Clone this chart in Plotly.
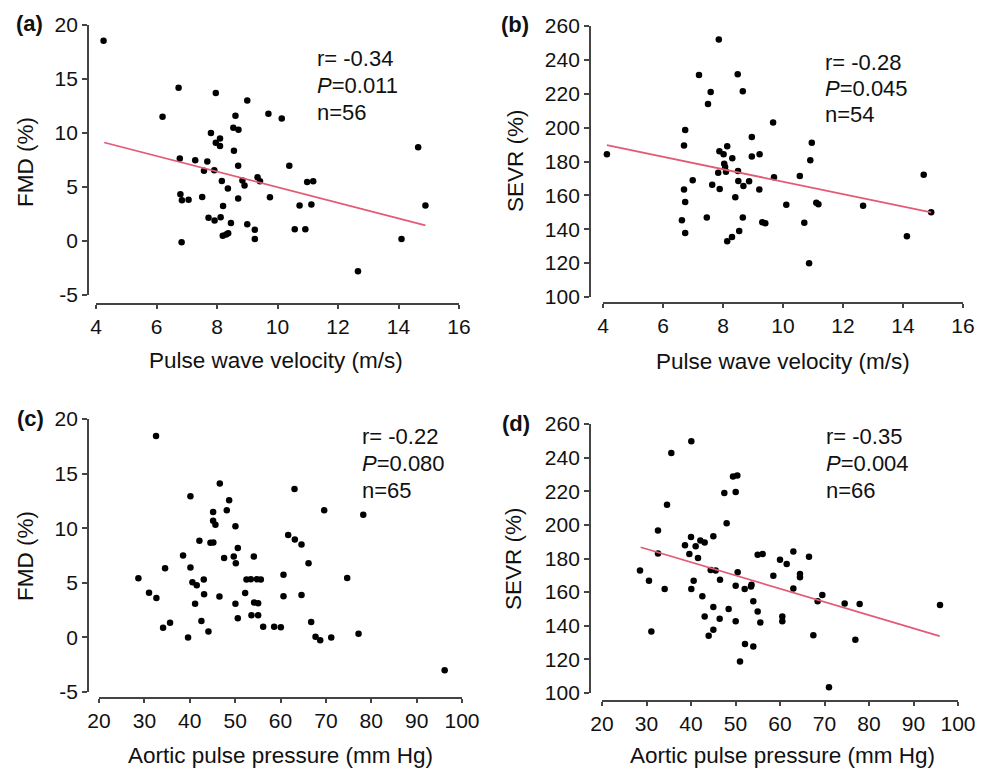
import plotly.graph_objects as go

# panel (a): pulse wave velocity vs FMD
pwv_fmd_x = [4.25, 6.73, 6.2, 7.96, 9.0, 9.7, 10.14, 8.61, 8.54, 8.71, 7.8, 8.1, 7.96, 8.1,
             8.56, 6.77, 7.28, 7.68, 8.7, 7.57, 7.91, 10.39, 8.16, 8.84, 8.91, 9.34, 9.42,
             10.98, 11.18, 8.36, 6.79, 6.84, 7.06, 7.51, 8.7, 9.75, 8.2, 10.73, 11.12, 14.89,
             14.65, 7.72, 7.92, 8.12, 8.46, 9.0, 9.25, 10.57, 10.92, 8.19, 8.37, 8.3, 9.25,
             14.1, 6.83, 12.66]
pwv_fmd_y = [18.55, 14.19, 11.5, 13.7, 13.0, 11.78, 11.34, 11.6, 10.48, 10.3, 10.0, 9.5, 9.1,
             8.8, 8.35, 7.63, 7.48, 7.36, 6.96, 6.5, 6.55, 6.96, 5.56, 5.6, 5.13, 5.9, 5.53,
             5.47, 5.53, 4.85, 4.33, 3.77, 3.83, 4.08, 3.93, 4.05, 3.25, 3.28, 3.37, 3.28,
             8.69, 2.16, 1.89, 2.19, 1.67, 1.55, 1.05, 1.08, 1.08, 0.49, 0.71, 0.6, 0.19,
             0.19, -0.12, -2.81]
pwv_fmd_fit_x = [4.27, 14.89]
pwv_fmd_fit_y = [9.12, 1.45]

# panel (b): pulse wave velocity vs SEVR
pwv_sevr_x = [4.13, 7.86, 7.2, 8.49, 7.59, 8.66, 7.5, 9.67, 6.74, 6.7, 8.96, 8.14, 7.88, 8.02,
              8.31, 8.96, 9.22, 10.96, 10.91, 8.04, 8.07, 7.84, 8.1, 8.5, 6.99, 7.64, 8.51,
              8.68, 8.87, 9.7, 10.56, 6.7, 7.89, 9.21, 6.74, 8.41, 10.11, 11.11, 11.18, 12.67,
              14.69, 14.94, 6.63, 7.46, 8.66, 9.31, 9.41, 10.71, 6.74, 8.54, 8.3, 8.14, 14.13,
              10.87]
pwv_sevr_y = [184.3, 252, 231, 231.5, 221, 221.5, 214, 203, 198.6, 189.4, 194.5, 189, 186,
              184.3, 181.9, 183, 184.3, 191, 180.7, 178.7, 176.8, 173.4, 174, 174.4, 168.9,
              166.3, 168.5, 165.6, 168.3, 170.7, 171.5, 163.4, 163.8, 163.4, 156.1, 158.9,
              154.5, 155.7, 154.7, 153.9, 172.2, 150, 145.3, 146.9, 146.9, 144.1, 143.5,
              143.9, 137.8, 139, 135.4, 132.9, 135.8, 119.9]
pwv_sevr_fit_x = [4.13, 14.94]
pwv_sevr_fit_y = [189.6, 150]

# panel (c): aortic pulse pressure vs FMD
app_fmd_x = [32.57, 28.68, 31.03, 32.65, 34.56, 34.12, 35.66, 38.53, 40.15, 40.15, 40.59,
             41.54, 41.18, 43.09, 43.16, 42.13, 42.57, 44.12, 39.63, 44.56, 45.2, 45.15,
             45.15, 45.66, 46.62, 47.57, 46.54, 48.16, 48.68, 49.7, 50.15, 50.07, 50.59,
             50.07, 50.59, 52.21, 52.5, 53.46, 54.12, 54.78, 55.66, 54.19, 55.07, 53.6,
             55.07, 56.18, 58.6, 60.07, 60.66, 60.66, 61.69, 63.16, 64.63, 63.09, 66.18,
             64.63, 66.76, 67.72, 68.75, 71.18, 69.63, 74.7, 77.2, 78.24, 96.18]
app_fmd_y = [18.44, 5.42, 4.1, 3.61, 6.34, 0.89, 1.35, 7.5, 12.92, 6.4, 5.05, 4.78, 3.09,
             5.3, 3.95, 8.85, 1.5, 0.55, 0.0, 8.67, 8.7, 11.49, 10.69, 10.32, 14.09, 7.26,
             3.74, 11.64, 12.56, 7.41, 6.8, 10.17, 8.18, 3.09, 1.75, 4.07, 5.3, 5.33, 7.41,
             5.33, 5.3, 3.19, 3.12, 2.02, 2.02, 0.98, 0.98, 0.92, 5.73, 3.77, 9.37, 8.97,
             8.51, 13.6, 6.8, 3.89, 1.41, 0.06, -0.25, 0.0, 11.64, 5.45, 0.34, 11.24, -3.0]

# panel (d): aortic pulse pressure vs SEVR
app_sevr_x = [40.07, 35.58, 34.61, 32.58, 32.58, 28.54, 30.56, 34.08, 31.09, 38.65, 40.0,
              41.05, 39.63, 41.57, 42.1, 43.07, 45.02, 40.6, 40.07, 42.55, 44.42, 45.54,
              46.52, 45.02, 43.07, 46.44, 45.02, 43.97, 48.46, 47.49, 48.01, 49.44, 50.41,
              50.04, 50.49, 50.04, 50.04, 52.06, 52.13, 51.01, 53.48, 53.6, 54.0, 54.98,
              54.98, 56.1, 55.58, 54.0, 58.5, 60.0, 61.5, 60.52, 60.52, 63.0, 63.0, 64.49,
              64.49, 66.52, 67.49, 68.46, 69.51, 71.01, 74.53, 77.9, 76.93, 95.96]
app_sevr_y = [249.7, 242.7, 211.9, 196.6, 182.9, 172.8, 166.8, 161.8, 136.6, 187.9, 192.8,
              187.3, 182.7, 180.3, 190.7, 189.5, 193.2, 166.8, 161.8, 157.5, 173.2, 172.8,
              167.4, 151.1, 145.5, 144.1, 137.6, 134.0, 149.9, 218.9, 201.0, 228.8, 229.4,
              219.5, 171.8, 163.8, 142.7, 161.8, 129.2, 118.7, 163.4, 164.4, 154.5, 148.5,
              182.3, 182.7, 141.9, 127.6, 169.8, 179.3, 176.7, 145.5, 142.7, 184.1, 162.2,
              170.8, 168.8, 181.1, 134.4, 154.5, 158.3, 103.4, 153.3, 152.9, 131.6, 152.3]
app_sevr_fit_x = [28.69, 95.88]
app_sevr_fit_y = [186.7, 133.8]

# tick values (FMD axis uses a plain hyphen for -5, as in the source figure)
pwv_ticks = [4, 6, 8, 10, 12, 14, 16]
app_ticks = [20, 30, 40, 50, 60, 70, 80, 90, 100]
fmd_ticks = [-5, 0, 5, 10, 15, 20]
fmd_tick_text = ['-5', '0', '5', '10', '15', '20']
sevr_ticks = [100, 120, 140, 160, 180, 200, 220, 240, 260]

panel_labels = ['(a)', '(b)', '(c)', '(d)']
x_titles = ['Pulse wave velocity (m/s)', 'Pulse wave velocity (m/s)',
            'Aortic pulse pressure (mm Hg)', 'Aortic pulse pressure (mm Hg)']
y_titles = ['FMD (%)', 'SEVR (%)', 'FMD (%)', 'SEVR (%)']
stats_r = ['r= -0.34', 'r= -0.28', 'r= -0.22', 'r= -0.35']
stats_p = ['0.011', '0.045', '0.080', '0.004']
stats_n = ['n=56', 'n=54', 'n=65', 'n=66']

W, H = 989, 769
PAGE_OFF = 8  # the browser's default body margin shifts the figure by 8px
FONT = 'Liberation Sans, Arial, sans-serif'
TXT = '#111111'
AXC = '#444444'
RED = '#e35a73'


def px(v):
    return (v - PAGE_OFF) / W


def py(v):
    return 1 - (v - PAGE_OFF) / H


# layout in screen pixels: x-domain, y-domain (top, bottom), y-axis line x, x-axis line y,
# label pos, stats pos, x-title pos, y-title pos
panels = [
    dict(x=pwv_fmd_x, y=pwv_fmd_y, fx=pwv_fmd_fit_x, fy=pwv_fmd_fit_y,
         xt_v=pwv_ticks, yt_v=fmd_ticks, yt_t=fmd_tick_text,
         xd=(96, 459), yd=(25, 295), yline=88, xline=304,
         lab=(29, 24), st=(315, 59), xt=(276, 360), yt=(25, 162)),
    dict(x=pwv_sevr_x, y=pwv_sevr_y, fx=pwv_sevr_fit_x, fy=pwv_sevr_fit_y,
         xt_v=pwv_ticks, yt_v=sevr_ticks, yt_t=[str(v) for v in sevr_ticks],
         xd=(603, 963), yd=(26, 297), yline=590, xline=303,
         lab=(515, 25), st=(823, 62), xt=(783, 362), yt=(515, 161)),
    dict(x=app_fmd_x, y=app_fmd_y, fx=None, fy=None,
         xt_v=app_ticks, yt_v=fmd_ticks, yt_t=fmd_tick_text,
         xd=(99, 462), yd=(419, 692), yline=88, xline=698,
         lab=(30, 418), st=(360, 437), xt=(280, 755), yt=(25, 556)),
    dict(x=app_sevr_x, y=app_sevr_y, fx=app_sevr_fit_x, fy=app_sevr_fit_y,
         xt_v=app_ticks, yt_v=sevr_ticks, yt_t=[str(v) for v in sevr_ticks],
         xd=(602, 958), yd=(424, 693), yline=590, xline=701,
         lab=(516, 423), st=(824, 437), xt=(782, 755), yt=(513, 558)),
]

fig = go.Figure()
annotations = []

for i, p in enumerate(panels):
    n = '' if i == 0 else str(i + 1)
    xa, ya = 'x' + n, 'y' + n
    fig.add_trace(go.Scatter(x=p['x'], y=p['y'], xaxis=xa, yaxis=ya, mode='markers',
                             marker=dict(color='black', size=6.5), showlegend=False))
    if p['fx'] is not None:
        fig.add_trace(go.Scatter(x=p['fx'], y=p['fy'], xaxis=xa, yaxis=ya, mode='lines',
                                 line=dict(color=RED, width=1.8), showlegend=False))

    axis_common = dict(showline=True, linecolor=AXC, linewidth=1.8, ticks='outside',
                       tickcolor=AXC, tickwidth=1.5, showgrid=False, zeroline=False,
                       automargin=False, tickfont=dict(family=FONT, size=21, color=TXT))
    fig.update_layout({
        'xaxis' + n: dict(axis_common, domain=[px(p['xd'][0]), px(p['xd'][1])],
                          range=[p['xt_v'][0], p['xt_v'][-1]], tickvals=p['xt_v'],
                          anchor='free', position=py(p['xline']), ticklen=4),
        'yaxis' + n: dict(axis_common, domain=[py(p['yd'][1]), py(p['yd'][0])],
                          range=[p['yt_v'][0], p['yt_v'][-1]], tickvals=p['yt_v'],
                          ticktext=p['yt_t'],
                          anchor='free', position=px(p['yline']), ticklen=5),
    })

    annotations.append(dict(text='<b>' + panel_labels[i] + '</b>',
                            x=px(p['lab'][0]), y=py(p['lab'][1]),
                            xanchor='center', yanchor='middle',
                            font=dict(family=FONT, size=22, color=TXT)))
    lines = [stats_r[i], '<i>P</i>=' + stats_p[i], stats_n[i]]
    for k, t in enumerate(lines):
        annotations.append(dict(text=t, x=px(p['st'][0]), y=py(p['st'][1] + k * 26.5),
                                xanchor='left', yanchor='middle',
                                font=dict(family=FONT, size=22, color=TXT)))
    annotations.append(dict(text=x_titles[i], x=px(p['xt'][0]), y=py(p['xt'][1]),
                            xanchor='center', yanchor='middle',
                            font=dict(family=FONT, size=22.5, color=TXT)))
    annotations.append(dict(text=y_titles[i], x=px(p['yt'][0]), y=py(p['yt'][1]),
                            xanchor='center', yanchor='middle', textangle=-90,
                            font=dict(family=FONT, size=22.5, color=TXT)))

for a in annotations:
    a.update(xref='paper', yref='paper', showarrow=False)

fig.update_layout(width=W, height=H, margin=dict(l=0, r=0, t=0, b=0),
                  plot_bgcolor='white', paper_bgcolor='white', annotations=annotations,
                  font=dict(family=FONT, color=TXT))

fig.write_html('out.html')
